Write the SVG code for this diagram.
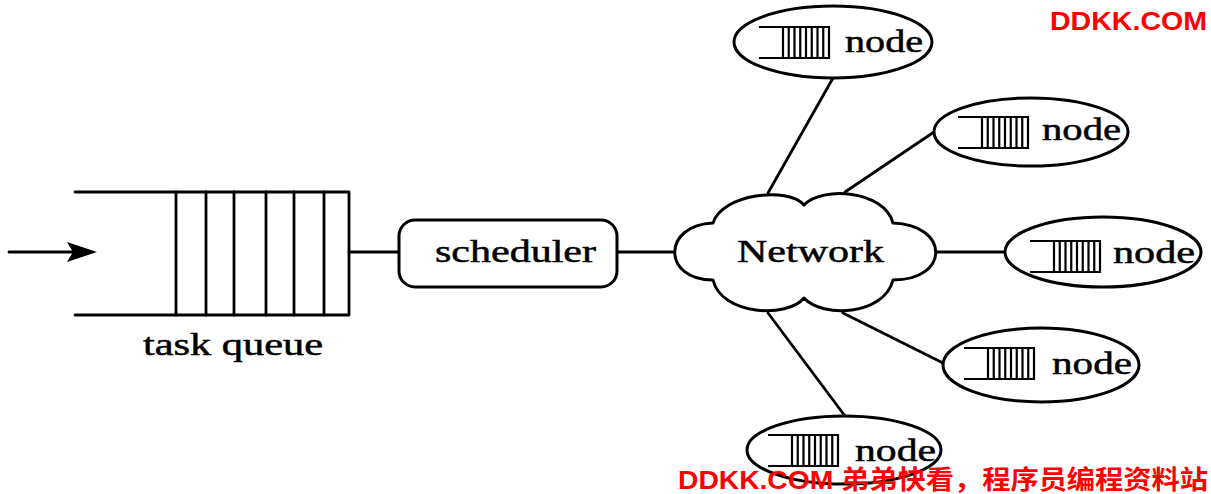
<svg xmlns="http://www.w3.org/2000/svg" width="1211" height="494" viewBox="0 0 1211 494">
<style>
.ln{fill:none;stroke:#000;stroke-width:2.8;stroke-linecap:round;stroke-linejoin:round}
.sh{fill:#fff;stroke:#000;stroke-width:3;stroke-linejoin:round}
.ic{fill:none;stroke:#000;stroke-width:2.2}
.tx{font-family:"Liberation Serif","Times New Roman",serif;font-size:32px;fill:#000;stroke:#000;stroke-width:0.5}
.wm{font-family:"Liberation Sans","Noto Sans CJK SC",sans-serif;font-weight:bold;font-size:26px;fill:#ff0000}
</style>
<defs>
<g id="icon">
<path class="ic" d="M0,0 H70 V31 H0"/>
<path class="ic" d="M24,0 V31 M29.75,0 V31 M35.5,0 V31 M41.25,0 V31 M47,0 V31 M52.75,0 V31 M58.5,0 V31 M64.25,0 V31"/>
</g>
</defs>
<rect width="1211" height="494" fill="#fff"/>
<g id="connectors">
<path class="ln" d="M9,252 H76"/>
<path d="M97,252 L67,242 L73,252 L67,262 Z" fill="#000"/>
<path class="ln" d="M349,252 H399"/>
<path class="ln" d="M617,252 H676"/>
<path class="ln" d="M768,193 L833,78"/>
<path class="ln" d="M845,192 L934,132"/>
<path class="ln" d="M934,252 H1005"/>
<path class="ln" d="M843,313 L943,363"/>
<path class="ln" d="M768,313 L845,416"/>
</g>
<g id="taskqueue">
<path class="ln" d="M75,192 H349 V315 H75"/>
<path class="ln" d="M176,192 V315 M206,192 V315 M234,192 V315 M266,192 V315 M294,192 V315 M324,192 V315"/>
<text class="tx" x="143" y="355" textLength="180" lengthAdjust="spacingAndGlyphs">task queue</text>
</g>
<g id="scheduler">
<rect class="sh" x="399" y="220" width="218" height="67" rx="16" ry="16"/>
<text class="tx" x="435" y="262" textLength="161" lengthAdjust="spacingAndGlyphs">scheduler</text>
</g>
<g id="network">
<path class="sh" d="M713,223 C722,194 788,186 804,205 C822,186 884,190 893,223 C950,225 950,280 893,280 C884,316 822,318 804,298 C788,318 722,316 713,280 C662,280 662,225 713,223 Z"/>
<text class="tx" x="737" y="262" textLength="147" lengthAdjust="spacingAndGlyphs">Network</text>
</g>
<g id="node1">
<ellipse class="sh" cx="833" cy="42" rx="99" ry="36"/>
<use href="#icon" x="759" y="27"/>
<text class="tx" x="845" y="52" textLength="78" lengthAdjust="spacingAndGlyphs">node</text>
</g>
<g id="node2">
<ellipse class="sh" cx="1031" cy="132" rx="97" ry="34"/>
<use href="#icon" x="958" y="117"/>
<text class="tx" x="1042" y="140" textLength="79" lengthAdjust="spacingAndGlyphs">node</text>
</g>
<g id="node3">
<ellipse class="sh" cx="1103" cy="252" rx="98" ry="35"/>
<use href="#icon" x="1030" y="241"/>
<text class="tx" x="1113" y="263" textLength="82" lengthAdjust="spacingAndGlyphs">node</text>
</g>
<g id="node4">
<ellipse class="sh" cx="1041" cy="365" rx="98" ry="37"/>
<use href="#icon" x="964" y="348"/>
<text class="tx" x="1052" y="374" textLength="80" lengthAdjust="spacingAndGlyphs">node</text>
</g>
<g id="node5">
<ellipse class="sh" cx="844" cy="450" rx="97" ry="34"/>
<use href="#icon" x="768" y="435"/>
<text class="tx" x="855" y="461" textLength="81" lengthAdjust="spacingAndGlyphs">node</text>
</g>
<g id="watermarks">
<text class="wm" x="1050" y="30" textLength="157" lengthAdjust="spacingAndGlyphs">DDKK.COM</text>
<text class="wm" x="678" y="489" textLength="530" lengthAdjust="spacingAndGlyphs">DDKK.COM 弟弟快看，程序员编程资料站</text>
</g>
</svg>
